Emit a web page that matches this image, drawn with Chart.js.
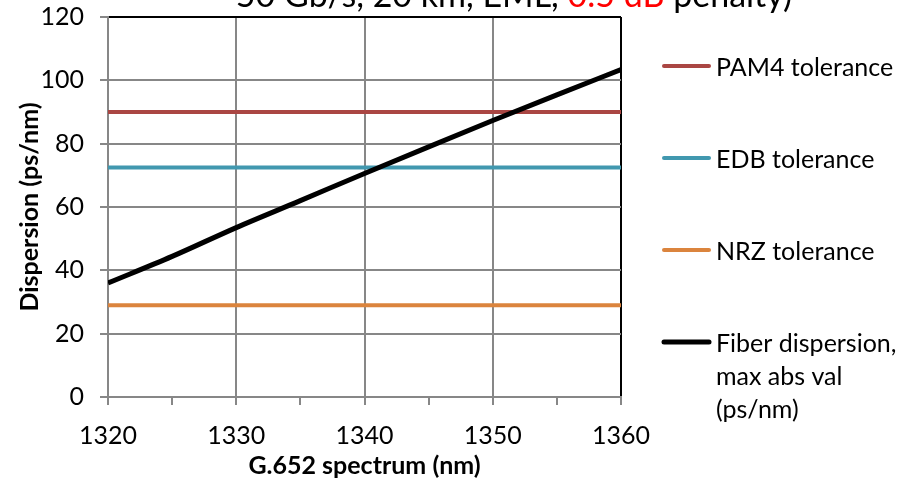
<!DOCTYPE html>
<html lang="en">
  <head>
    <meta charset="UTF-8" />
    <meta name="viewport" content="width=device-width, initial-scale=1.0" />
    <script src="https://cdn.jsdelivr.net/npm/chart.js@4.4.1/dist/chart.umd.min.js"></script>
    <title>Dispersion tolerance</title>
    <style>
      html, body { margin: 0; padding: 0; background: #fff; }
      canvas { display: block; }
    </style>
  </head>
  <body>
    <canvas id="chart" width="915" height="484"></canvas>
    <script>
      // values
      const wavelengths = [1320, 1325, 1330, 1335, 1340, 1345, 1350, 1355, 1360];
      const fiberDispersion = [36, 44.4, 53.5, 62, 70.6, 79, 87.3, 95.4, 103.4];
      const toleranceNames = ["PAM4 tolerance", "EDB tolerance", "NRZ tolerance"];
      const toleranceValues = [90, 72.5, 29];
      const xLabels = [1320, 1330, 1340, 1350, 1360];
      const yLabels = [0, 20, 40, 60, 80, 100, 120];
      const fiberName = ["Fiber dispersion,", "max abs val", "(ps/nm)"];
      const titleParts = ["50 Gb/s, 20 km, EML, ", "0.5 dB", " penalty)"];

      const colors = ["#AA4643", "#4198AF", "#DB843D"];
      const gridGray = "#878787";
      const FONT = "Lato";

      const xMin = wavelengths[0];
      const xMax = wavelengths[wavelengths.length - 1];

      const datasets = toleranceNames.map((name, i) => ({
        label: name,
        data: [
          { x: xMin, y: toleranceValues[i] },
          { x: xMax, y: toleranceValues[i] },
        ],
        borderColor: colors[i],
        borderWidth: 4,
        pointRadius: 0,
        order: 1,
      }));
      datasets.push({
        label: fiberName.join(" "),
        legendLines: fiberName,
        data: wavelengths.map((w, i) => ({ x: w, y: fiberDispersion[i] })),
        borderColor: "#000",
        borderWidth: 5,
        pointRadius: 0,
        cubicInterpolationMode: "monotone",
        order: 0,
      });

      // half-cut title at the top of the picture
      const topTitle = {
        id: "topTitle",
        afterDraw(chart) {
          const ctx = chart.ctx;
          ctx.save();
          ctx.font = "34px " + FONT;
          ctx.textBaseline = "alphabetic";
          const widths = titleParts.map((t) => ctx.measureText(t).width);
          const total = widths.reduce((a, b) => a + b, 0);
          let x = 514 - total / 2;
          titleParts.forEach((t, i) => {
            ctx.fillStyle = i === 1 ? "#FF0000" : "#000";
            ctx.fillText(t, x, 7);
            x += widths[i];
          });
          ctx.restore();
        },
      };

      const sideLegend = {
        id: "sideLegend",
        afterDraw(chart) {
          const ctx = chart.ctx;
          ctx.save();
          ctx.font = "25px " + FONT;
          ctx.textBaseline = "middle";
          ctx.fillStyle = "#000";
          chart.data.datasets.forEach((ds, i) => {
            const y = 66 + i * 92;
            ctx.strokeStyle = ds.borderColor;
            ctx.lineWidth = ds.borderWidth;
            ctx.lineCap = "round";
            ctx.beginPath();
            ctx.moveTo(664, y);
            ctx.lineTo(709, y);
            ctx.stroke();
            const lines = ds.legendLines || [ds.label];
            lines.forEach((line, j) => ctx.fillText(line, 716, y + 2 + j * 33));
          });
          ctx.restore();
        },
      };

      new Chart(document.getElementById("chart"), {
        type: "line",
        data: { datasets: datasets },
        options: {
          responsive: false,
          animation: false,
          devicePixelRatio: 1,
          layout: { padding: { top: 17, right: 294, left: 0, bottom: 0 } },
          plugins: {
            legend: { display: false },
            tooltip: { enabled: false },
          },
          scales: {
            x: {
              type: "linear",
              min: xMin,
              max: xMax,
              afterFit(scale) {
                scale.height = 87;
                scale.paddingLeft = 0;
                scale.paddingRight = 0;
              },
              ticks: {
                stepSize: 5,
                color: "#000",
                font: { family: FONT, size: 25 },
                padding: 16,
                maxRotation: 0,
                callback: (v) => (xLabels.includes(v) ? v : ""),
              },
              grid: {
                lineWidth: 2,
                tickLength: 8,
                tickColor: gridGray,
                color: (c) =>
                  !xLabels.includes(c.tick.value)
                    ? "rgba(0,0,0,0)"
                    : c.tick.value === xMax
                    ? "#000"
                    : gridGray,
              },
              border: { color: gridGray, width: 2 },
              title: {
                display: true,
                text: "G.652 spectrum (nm)",
                color: "#000",
                font: { family: FONT, size: 25, weight: "bold" },
                padding: { top: 0, bottom: 3 },
              },
            },
            y: {
              min: 0,
              max: 120,
              afterFit(scale) {
                scale.width = 108;
                scale.paddingTop = 0;
                scale.paddingBottom = 0;
              },
              ticks: {
                stepSize: 20,
                color: "#000",
                font: { family: FONT, size: 25 },
                padding: 16,
                callback: (v) => (yLabels.includes(v) ? v : ""),
              },
              grid: {
                lineWidth: 2,
                tickLength: 8,
                tickColor: gridGray,
                color: (c) => (c.tick.value === 120 ? "#000" : gridGray),
              },
              border: { color: gridGray, width: 2 },
              title: {
                display: true,
                text: "Dispersion (ps/nm)",
                color: "#000",
                font: { family: FONT, size: 25, weight: "bold" },
                padding: { top: 15, bottom: 0 },
              },
            },
          },
        },
        plugins: [topTitle, sideLegend],
      });
    </script>
  </body>
</html>
